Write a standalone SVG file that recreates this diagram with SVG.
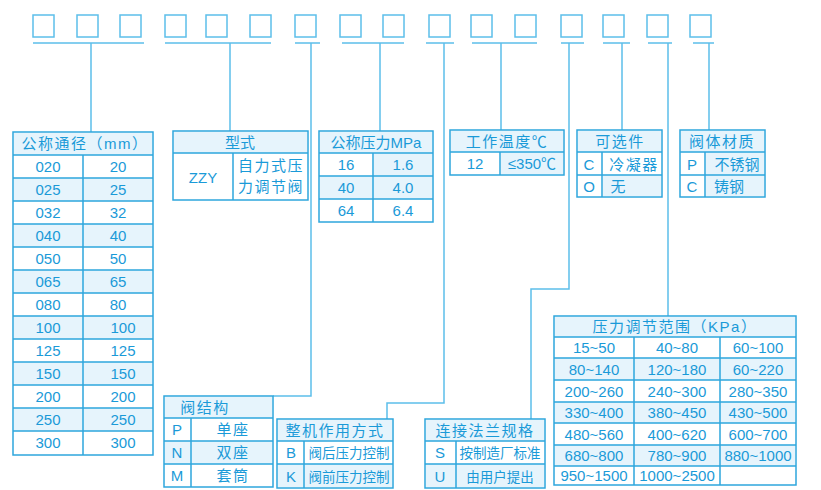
<svg xmlns="http://www.w3.org/2000/svg" width="821" height="490" viewBox="0 0 821 490">
<style>
.b{fill:none;stroke:#5cbfea;stroke-width:1.5}
.l{fill:none;stroke:#5cbfea;stroke-width:1.5}
.t{fill:#fff;stroke:#2ea6dd;stroke-width:1.5}
.h{fill:#e6f4fc}
.g{stroke:#2ea6dd;stroke-width:1.5}
text{font-family:"Liberation Sans","Noto Sans CJK SC",sans-serif;font-size:15px;fill:#1a9ad8;text-anchor:middle}
.w{letter-spacing:1.5px}
</style>
<rect width="821" height="490" fill="#fff"/>
<g id="codes">
<rect class="b" x="33" y="15" width="21" height="22"/><rect class="b" x="77" y="15" width="21" height="22"/><rect class="b" x="120" y="15" width="21" height="22"/>
<rect class="b" x="165" y="15" width="21" height="22"/><rect class="b" x="206" y="15" width="21" height="22"/><rect class="b" x="250" y="15" width="21" height="22"/>
<rect class="b" x="295" y="15" width="21" height="22"/><rect class="b" x="340" y="15" width="21" height="22"/><rect class="b" x="383" y="15" width="21" height="22"/>
<rect class="b" x="429" y="15" width="21" height="22"/><rect class="b" x="471" y="15" width="21" height="22"/><rect class="b" x="515" y="15" width="21" height="22"/>
<rect class="b" x="561" y="15" width="21" height="22"/><rect class="b" x="603" y="15" width="21" height="22"/><rect class="b" x="647" y="15" width="21" height="22"/>
<rect class="b" x="690" y="15" width="21" height="22"/>
</g>
<g id="connectors">
<path class="l" d="M33 43H144M165 43H271M295 43H320M342 43H404M426 43H454M472 43H537M561 43H584M603 43H630M648 43H672M693 43H714"/>
<path class="l" d="M91 43V132M230 43V131M311 43V396H273M380 43V131M444 43V403H387V419M501 43V130M569 43V289H531V419M622 43V130M668 43V316M709 43V130"/>
</g>
<g id="t-dn">
<rect class="t" x="13" y="132" width="140" height="323"/>
<rect class="h" x="14" y="133" width="138" height="22"/>
<rect class="h" x="14" y="178" width="138" height="23"/><rect class="h" x="14" y="224" width="138" height="23"/><rect class="h" x="14" y="270" width="138" height="23"/><rect class="h" x="14" y="316" width="138" height="23"/><rect class="h" x="14" y="362" width="138" height="23"/><rect class="h" x="14" y="408" width="138" height="23"/>
<path class="g" d="M13 155H153M13 178H153M13 201H153M13 224H153M13 247H153M13 270H153M13 293H153M13 316H153M13 339H153M13 362H153M13 385H153M13 408H153M13 431H153M83 155V455"/>
<text class="w" x="85" y="149">公称通径（mm）</text>
<text x="48" y="172">020</text><text x="118" y="172">20</text>
<text x="48" y="195">025</text><text x="118" y="195">25</text>
<text x="48" y="218">032</text><text x="118" y="218">32</text>
<text x="48" y="241">040</text><text x="118" y="241">40</text>
<text x="48" y="264">050</text><text x="118" y="264">50</text>
<text x="48" y="287">065</text><text x="118" y="287">65</text>
<text x="48" y="310">080</text><text x="118" y="310">80</text>
<text x="48" y="333">100</text><text x="123" y="333">100</text>
<text x="48" y="356">125</text><text x="123" y="356">125</text>
<text x="48" y="379">150</text><text x="123" y="379">150</text>
<text x="48" y="402">200</text><text x="123" y="402">200</text>
<text x="48" y="425">250</text><text x="123" y="425">250</text>
<text x="48" y="448">300</text><text x="123" y="448">300</text>
</g>
<g id="t-type">
<rect class="t" x="173" y="131" width="135" height="69"/>
<rect class="h" x="174" y="132" width="133" height="21"/>
<path class="g" d="M173 153H308M233 153V200"/>
<text x="240" y="148">型式</text>
<text x="203" y="183">ZZY</text>
<text class="w" x="271" y="171">自力式压</text><text class="w" x="271" y="192">力调节阀</text>
</g>
<g id="t-pn">
<rect class="t" x="319" y="131" width="114" height="91"/>
<rect class="h" x="320" y="132" width="112" height="21"/><rect class="h" x="320" y="176" width="112" height="23"/><rect class="h" x="374" y="153" width="58" height="23"/>
<path class="g" d="M319 153H433M319 176H433M319 199H433M373 153V222"/>
<text x="376" y="148">公称压力MPa</text>
<text x="346" y="170">16</text><text x="403" y="170">1.6</text>
<text x="346" y="193">40</text><text x="403" y="193">4.0</text>
<text x="346" y="216">64</text><text x="403" y="216">6.4</text>
</g>
<g id="t-temp">
<rect class="t" x="450" y="130" width="114" height="45"/>
<rect class="h" x="451" y="131" width="112" height="21"/><rect class="h" x="501" y="152" width="62" height="22"/>
<path class="g" d="M450 152H564M500 152V175"/>
<text class="w" x="507" y="147">工作温度℃</text>
<text x="475" y="169">12</text><text x="532" y="169">≤350℃</text>
</g>
<g id="t-opt">
<rect class="t" x="577" y="130" width="85" height="67"/>
<rect class="h" x="578" y="131" width="83" height="21"/><rect class="h" x="603" y="175" width="58" height="21"/>
<path class="g" d="M577 152H662M577 175H662M602 152V197"/>
<text class="w" x="620" y="147">可选件</text>
<text x="589" y="170">C</text><text class="w" x="634" y="170">冷凝器</text>
<text x="589" y="192">O</text><text x="618" y="192">无</text>
</g>
<g id="t-mat">
<rect class="t" x="680" y="130" width="85" height="67"/>
<rect class="h" x="681" y="131" width="83" height="21"/><rect class="h" x="706" y="152" width="58" height="23"/><rect class="h" x="706" y="175" width="58" height="21"/>
<path class="g" d="M680 152H765M680 175H765M705 152V197"/>
<text class="w" x="722" y="147">阀体材质</text>
<text x="692" y="170">P</text><text x="737" y="170">不锈钢</text>
<text x="692" y="192">C</text><text x="729" y="192">铸钢</text>
</g>
<g id="t-struct">
<rect class="t" x="164" y="396" width="109" height="91"/>
<rect class="h" x="165" y="397" width="107" height="21"/><rect class="h" x="165" y="441" width="107" height="23"/>
<path class="g" d="M164 418H273M164 441H273M164 464H273M191 418V487"/>
<text class="w" x="205" y="413">阀结构</text>
<text x="177" y="435">P</text><text class="w" x="233" y="435">单座</text>
<text x="177" y="458">N</text><text class="w" x="233" y="458">双座</text>
<text x="177" y="481">M</text><text class="w" x="233" y="481">套筒</text>
</g>
<g id="t-act">
<rect class="t" x="277" y="419" width="116" height="69"/>
<rect class="h" x="278" y="420" width="114" height="21"/><rect class="h" x="278" y="464" width="114" height="23"/>
<path class="g" d="M277 441H393M277 464H393M304 441V488"/>
<text class="w" x="335" y="436">整机作用方式</text>
<text x="291" y="458">B</text><text x="349" y="458" style="font-size:13.5px">阀后压力控制</text>
<text x="291" y="482">K</text><text x="349" y="482" style="font-size:13.5px">阀前压力控制</text>
</g>
<g id="t-flange">
<rect class="t" x="425" y="419" width="120" height="69"/>
<rect class="h" x="426" y="420" width="118" height="21"/><rect class="h" x="426" y="464" width="118" height="23"/>
<path class="g" d="M425 441H545M425 464H545M456 441V488"/>
<text class="w" x="485" y="436">连接法兰规格</text>
<text x="440" y="458">S</text><text x="500" y="458" style="font-size:13.5px">按制造厂标准</text>
<text x="440" y="482">U</text><text x="500" y="482" style="font-size:13.5px">由用户提出</text>
</g>
<g id="t-range">
<rect class="t" x="554" y="316" width="242" height="169"/>
<rect class="h" x="555" y="317" width="240" height="20"/><rect class="h" x="555" y="358" width="240" height="22"/><rect class="h" x="555" y="402" width="240" height="21"/><rect class="h" x="555" y="445" width="240" height="21"/>
<path class="g" d="M554 337H796M554 358H796M554 380H796M554 402H796M554 423H796M554 445H796M554 466H796M634 337V485M720 337V485"/>
<text class="w" x="675" y="332">压力调节范围（KPa）</text>
<text x="594" y="353">15~50</text><text x="677" y="353">40~80</text><text x="758" y="353">60~100</text>
<text x="594" y="375">80~140</text><text x="677" y="375">120~180</text><text x="758" y="375">60~220</text>
<text x="594" y="397">200~260</text><text x="677" y="397">240~300</text><text x="758" y="397">280~350</text>
<text x="594" y="418">330~400</text><text x="677" y="418">380~450</text><text x="758" y="418">430~500</text>
<text x="594" y="440">480~560</text><text x="677" y="440">400~620</text><text x="758" y="440">600~700</text>
<text x="594" y="461">680~800</text><text x="677" y="461">780~900</text><text x="758" y="461">880~1000</text>
<text x="594" y="481">950~1500</text><text x="677" y="481">1000~2500</text>
</g>
</svg>
